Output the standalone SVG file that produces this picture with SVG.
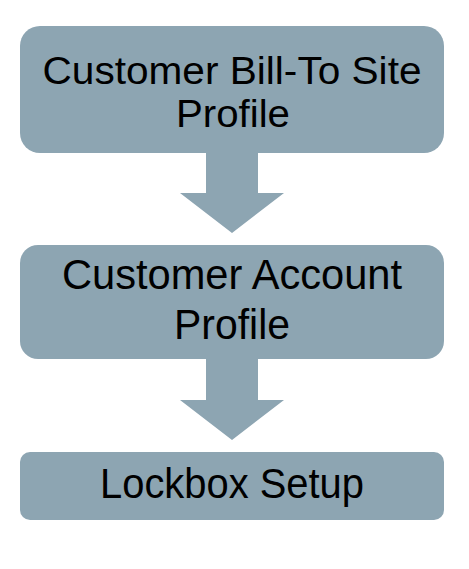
<svg xmlns="http://www.w3.org/2000/svg" width="469" height="569" viewBox="0 0 469 569">
<style>
.box{fill:#8da5b2}
.arr{fill:#8da5b2}
.t{font-family:"Liberation Sans",Arial,sans-serif;font-size:42px;fill:#000;text-anchor:middle}
.s{font-size:38px}
</style>
<rect width="469" height="569" fill="#fff"/>
<g id="connectors">
<polygon class="arr" points="206,152 258,152 258,193 284,193 232,233 180,193 206,193"/>
<polygon class="arr" points="206,358 258,358 258,400 284,400 232,440 180,400 206,400"/>
</g>
<g id="node-billto">
<rect class="box" x="20" y="26" width="424" height="127" rx="20"/>
<text class="t s" x="232" y="84" textLength="379" lengthAdjust="spacingAndGlyphs">Customer Bill-To Site</text>
<text class="t s" x="233" y="127" textLength="114" lengthAdjust="spacingAndGlyphs">Profile</text>
</g>
<g id="node-account">
<rect class="box" x="20" y="245" width="424" height="114" rx="18"/>
<text class="t" x="232" y="289" textLength="340" lengthAdjust="spacingAndGlyphs">Customer Account</text>
<text class="t" x="232" y="339" textLength="116" lengthAdjust="spacingAndGlyphs">Profile</text>
</g>
<g id="node-lockbox">
<rect class="box" x="20" y="452" width="424" height="68" rx="10"/>
<text class="t" x="232" y="498" textLength="264" lengthAdjust="spacingAndGlyphs">Lockbox Setup</text>
</g>
</svg>
